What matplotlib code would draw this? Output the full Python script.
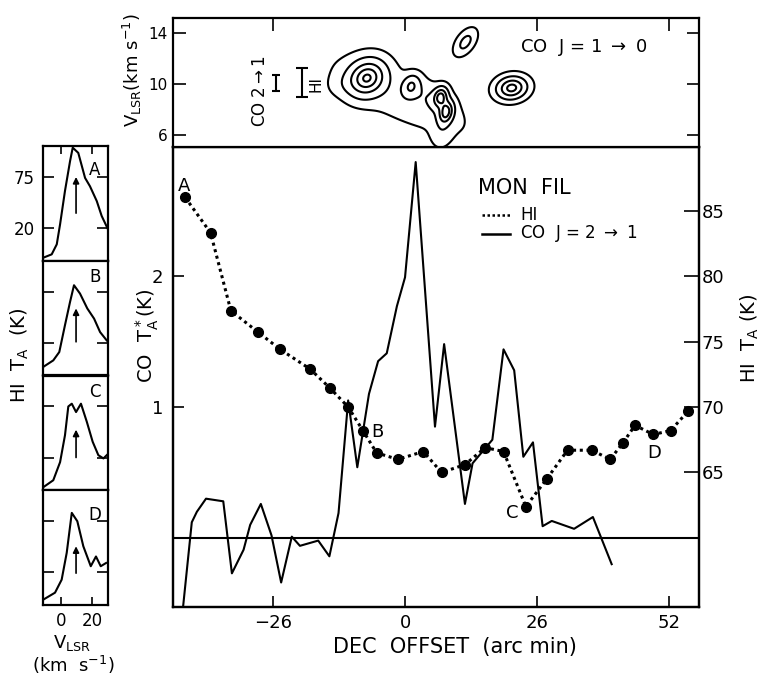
import numpy as np
import matplotlib
matplotlib.use('Agg')
import matplotlib.pyplot as plt

plt.rcParams['font.family'] = ['DejaVu Sans']
plt.rcParams['mathtext.default'] = 'regular'

W, H = 769, 678

# ---------------- main panel data ----------------
hi_offset = [-43.3, -38.3, -34.3, -28.9, -24.6, -18.7, -14.8, -11.2, -8.3, -5.6,
             -1.4, 3.6, 7.2, 11.8, 15.8, 19.4, 23.8, 27.9, 32.0, 36.8,
             40.4, 42.9, 45.3, 48.9, 52.3, 55.8]
hi_ta = [86.0, 83.3, 77.35, 75.7, 74.4, 72.9, 71.45, 70.0, 68.2, 66.5,
         66.0, 66.6, 65.0, 65.6, 66.9, 66.6, 62.4, 64.5, 66.7, 66.7,
         66.0, 67.25, 68.6, 67.9, 68.2, 69.7]

co_offset = [-43.7, -42.0, -41.0, -39.2, -35.8, -34.1, -31.8, -30.5, -28.4, -26.3,
             -24.4, -22.3, -20.7, -17.1, -14.9, -13.1, -11.2, -9.4, -7.1, -5.3,
             -3.6, -1.6, 0.0, 2.1, 5.9, 7.7, 11.8, 13.3, 17.2, 19.4,
             21.5, 23.3, 25.2, 27.1, 28.9, 33.3, 37.0, 40.7]
co_ta = [-0.52, 0.12, 0.20, 0.30, 0.28, -0.27, -0.09, 0.10, 0.26, 0.02,
         -0.34, 0.01, -0.06, -0.02, -0.14, 0.19, 1.05, 0.54, 1.10, 1.35,
         1.41, 1.77, 1.99, 2.87, 0.85, 1.48, 0.26, 0.57, 0.75, 1.44,
         1.28, 0.62, 0.73, 0.09, 0.13, 0.07, 0.16, -0.20]

point_names = ['A', 'B', 'C', 'D']
point_label_x = [-43.5, -5.5, 21.1, 49.0]
point_label_y = [2.69, 0.81, 0.19, 0.65]

main_xticks = [-26, 0, 26, 52]
co_ticks = [1, 2]
hi_ticks = [65, 70, 75, 80, 85]

# ---------------- top panel (CO J=1-0 map) ----------------
# components: main peak, second peak, double peak (2), east clump, north clump,
# west shoulder, broad ridge, middle plateau, southern tail
blob_x = [-7.5, 1.2, 7.0, 8.1, 21.0, 11.9, -12.5, -1.5, 5.5, 7.2]
blob_v = [10.5, 9.85, 9.0, 7.8, 9.7, 13.3, 10.0, 9.0, 8.7, 6.2]
blob_smaj = [2.6, 1.5, 1.3, 1.5, 1.9, 1.8, 2.0, 9.5, 3.5, 2.0]
blob_smin = [2.2, 1.1, 0.9, 0.9, 1.4, 1.0, 1.5, 3.0, 1.8, 1.3]
blob_ang = [40, 70, 75, 75, 10, 55, 20, -26, -40, 80]
blob_amp = [0.9, 0.45, 0.75, 0.75, 0.85, 0.3, 0.06, 0.12, 0.15, 0.12]
co10_levels = [0.05, 0.22, 0.5, 0.76, 0.95]
vel_ticks = [6, 10, 14]

res_bar_x = [-25.4, -20.2]
res_bar_lo = [9.45, 8.98]
res_bar_hi = [10.7, 11.25]

# ---------------- HI spectra insets ----------------
specA_v = [-11, -5.7, -2.5, -0.4, 2.7, 5.9, 7.6, 11.1, 15.4, 18.5, 22.8, 25.9, 29.5]
specA_t = [-12, -8.4, 2.4, 24, 60, 92, 106.6, 101, 74, 65, 49, 33, 20]
specB_v = [-11, -4.7, -0.9, 2.7, 5.9, 8.4, 12.2, 16.8, 21.1, 24.9, 29.1]
specB_t = [-6, 1, 10, 39, 64, 82, 73, 57, 46, 31.5, 22.5]
specC_v = [-11, -4.7, -0.4, 2.7, 4.8, 7.0, 9.7, 12.8, 16.5, 20.2, 23.8, 27.0, 30.0]
specC_t = [-12, -4.5, 15, 44, 75, 78, 69, 78, 58.5, 37, 22.5, 19, 24]
specD_v = [-11, -3.6, 0.6, 3.8, 7.0, 10.5, 14.3, 19.0, 22.3, 25.3, 28.7]
specD_t = [-9.5, -2, 12, 41, 84, 75, 48, 26.5, 37, 26.5, 30]
spec_names = ['A', 'B', 'C', 'D']
arrow_v = [9.7, 9.7, 9.7, 9.7]
arrow_base = [33, 18, 17, 16]
arrow_tip = [78, 60, 53, 51]
inset_yticks = [20, 75]
inset_xticks = [0, 20]

# ---------------- figure ----------------
fig = plt.figure(figsize=(W / 100, H / 100), dpi=100)

def frac_box(x0, y0, x1, y1):
    return [x0 / W, 1 - y1 / H, (x1 - x0) / W, (y1 - y0) / H]

LW = 1.6
xlim = (-45.7, 57.9)

# main panel
ax = fig.add_axes(frac_box(173, 147, 699, 607))
ax.plot(co_offset, co_ta, color='black', lw=1.5)
ax.axhline(0, color='black', lw=1.5)
ax.set_xlim(*xlim)
ax.set_ylim(-0.527, 2.985)
ax.set_xticks(main_xticks)
ax.set_yticks(co_ticks)
ax.tick_params(axis='both', direction='in', length=8, width=1.2, labelsize=13, pad=5)
ax.tick_params(axis='y', pad=7)
for s in ax.spines.values():
    s.set_linewidth(LW)
for nm, lx, ly in zip(point_names, point_label_x, point_label_y):
    ax.text(lx, ly, nm, fontsize=13, ha='center', va='center')

ax2 = ax.twinx()
ax2.plot(hi_offset, hi_ta, color='black', lw=2.2, linestyle=(0, (1, 1.2)),
         marker='o', ms=7, mfc='black', mec='black')
ax2.set_ylim(54.73, 89.85)
ax2.set_yticks(hi_ticks)
ax2.tick_params(axis='y', direction='in', length=11, width=1.2, labelsize=13, pad=2)
for s in ax2.spines.values():
    s.set_linewidth(LW)

# legend (manual)
ax.text(0.58, 0.911, 'MON  FIL', transform=ax.transAxes, fontsize=15, va='center', ha='left')
ax.plot([0.587, 0.641], [0.852, 0.852], transform=ax.transAxes, color='black',
        lw=1.8, linestyle=(0, (1, 1)))
ax.text(0.66, 0.852, 'HI', transform=ax.transAxes, fontsize=12, va='center')
ax.plot([0.587, 0.641], [0.811, 0.811], transform=ax.transAxes, color='black', lw=1.8)
ax.text(0.66, 0.811, r'CO  J = 2 $\rightarrow$ 1', transform=ax.transAxes, fontsize=12, va='center')

fig.text(455 / W, 1 - 647 / H, 'DEC  OFFSET  (arc min)', fontsize=15, ha='center', va='center')
fig.text(147 / W, 1 - 336 / H, r'CO  $T_A^*$(K)', fontsize=14, ha='center', va='center', rotation=90)
fig.text(750 / W, 1 - 338 / H, r'HI  $T_A$ (K)', fontsize=14, ha='center', va='center', rotation=90)

# top panel
axt = fig.add_axes(frac_box(173, 18, 699, 147))
gx = np.linspace(-46, 58, 700)
gv = np.linspace(4.8, 15.5, 300)
GX, GV = np.meshgrid(gx, gv)
field = np.zeros_like(GX)
for cx, cv, a, b, ang, amp in zip(blob_x, blob_v, blob_smaj, blob_smin, blob_ang, blob_amp):
    th = np.radians(ang)
    dx = GX - cx
    dy = (GV - cv) * 2.53
    u = dx * np.cos(th) + dy * np.sin(th)
    w = -dx * np.sin(th) + dy * np.cos(th)
    field += amp * np.exp(-0.5 * ((u / a) ** 2 + (w / b) ** 2))
axt.contour(GX, GV, field, levels=co10_levels, colors='black', linewidths=1.5)
axt.set_xlim(*xlim)
axt.set_ylim(5.06, 15.2)
axt.set_yticks(vel_ticks)
axt.set_xticks(main_xticks)
axt.tick_params(axis='both', direction='in', length=9, width=1.2, labelsize=11, pad=4,
                top=True, bottom=False, right=True, labelbottom=False)
for s in axt.spines.values():
    s.set_linewidth(LW)
for bx, lo, hi_ in zip(res_bar_x, res_bar_lo, res_bar_hi):
    axt.errorbar([bx], [(lo + hi_) / 2], yerr=[(hi_ - lo) / 2], fmt='none',
                 ecolor='black', elinewidth=1.5, capsize=3 if bx < -22 else 4, capthick=1.5)
axt.text(-28.6, 9.5, r'CO 2$\rightarrow$1', rotation=90, fontsize=12, ha='center', va='center')
axt.text(-17.6, 10.05, 'HI', rotation=90, fontsize=11, ha='center', va='center')
axt.text(0.78, 0.77, r'CO  J = 1 $\rightarrow$ 0', transform=axt.transAxes,
         fontsize=13, ha='center', va='center')
fig.text(132 / W, 1 - 70 / H, r'$V_{LSR}$(km s$^{-1}$)', fontsize=13,
         ha='center', va='center', rotation=90)

# insets
specs_v = [specA_v, specB_v, specC_v, specD_v]
specs_t = [specA_t, specB_t, specC_t, specD_t]
label_yfrac = [0.79, 0.86, 0.855, 0.78]
top0, bot0 = 146, 605
ph = (bot0 - top0) / 4
for i in range(4):
    y0 = top0 + i * ph
    axi = fig.add_axes(frac_box(43, y0, 108, y0 + ph))
    axi.plot(specs_v[i], specs_t[i], color='black', lw=1.5)
    axi.set_xlim(-11.2, 29.9)
    axi.set_ylim(-15.3, 108.4)
    axi.set_yticks(inset_yticks)
    axi.set_xticks(inset_xticks)
    axi.tick_params(axis='y', direction='in', length=8, width=1.2, right=True,
                    labelleft=(i == 0), labelsize=12, pad=6)
    axi.tick_params(axis='x', direction='in', length=6, width=1.2,
                    top=(i == 0), bottom=(i == 3), labelbottom=(i == 3), labelsize=12, pad=5)
    for s in axi.spines.values():
        s.set_linewidth(LW)
    axi.annotate('', xy=(arrow_v[i], arrow_tip[i]), xytext=(arrow_v[i], arrow_base[i]),
                 arrowprops=dict(arrowstyle='-|>', color='black', lw=1.2, mutation_scale=9))
    axi.text(0.8, label_yfrac[i], spec_names[i], transform=axi.transAxes,
             fontsize=12, ha='center', va='center')

fig.text(20 / W, 1 - 355 / H, r'HI  $T_A$  (K)', fontsize=14, ha='center', va='center', rotation=90)
fig.text(72 / W, 1 - 643 / H, r'$V_{LSR}$', fontsize=13, ha='center', va='center')
fig.text(73 / W, 1 - 665 / H, r'(km  s$^{-1}$)', fontsize=13, ha='center', va='center')

fig.savefig('out.png', dpi=100)
